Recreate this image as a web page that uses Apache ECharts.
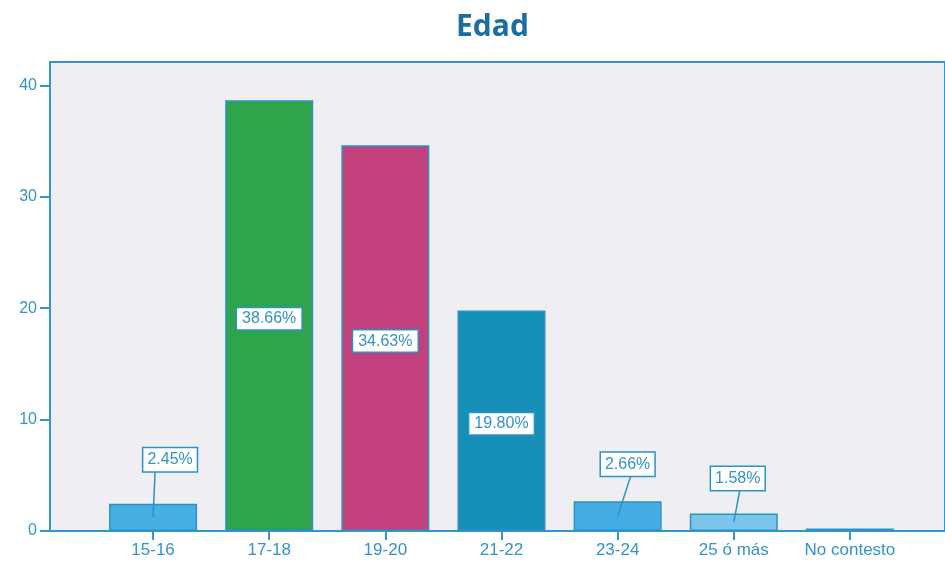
<!DOCTYPE html>
<html>
<head>
<meta charset="utf-8">
<script src="https://cdn.jsdelivr.net/npm/echarts@6/dist/echarts.min.js"></script>
<style>html,body{margin:0;padding:0;background:#fff;}#c{width:945px;height:562px;}</style>
</head>
<body>
<div id="c"></div>
<script>
const categories = ['15-16', '17-18', '19-20', '21-22', '23-24', '25 ó más', 'No contesto'];
const values = [2.45, 38.66, 34.63, 19.80, 2.66, 1.58, 0.22];
const labelTexts = ['2.45%', '38.66%', '34.63%', '19.80%', '2.66%', '1.58%', ''];
const yTicks = [0, 10, 20, 30, 40];
const barColors = ['#47b0e3', '#2ea44b', '#c2417d', '#1690b9', '#45ade2', '#7cc6ec', '#2d9ad6'];
// callout layout (styling): label-centre offset from bar top/centre, and line end x offset
const calloutStyle = { 0: { dx: 17, dy: 44, lx: 2 }, 4: { dx: 10, dy: 37, lx: 13 }, 5: { dx: 4, dy: 35, lx: 6 } };

const BLUE = '#3596cc';
const TXT = '#3493cb';
const FONT = '"Liberation Sans", Arial, sans-serif';

const insideIdx = values.map((v, i) => i).filter(i => labelTexts[i] && values[i] >= 10);
const calloutData = values.map((v, i) => [i, v]).filter(d => labelTexts[d[0]] && d[1] < 10);

const chart = echarts.init(document.getElementById('c'));
chart.setOption({
  animation: false,
  title: {
    text: 'Edad', left: 451, top: 7,
    textStyle: { color: '#1a6fa0', fontSize: 30, fontWeight: 'bold', fontFamily: '"Open Sans", "Noto Sans", sans-serif' }
  },
  grid: [
    { left: 50, right: -10, top: 62, bottom: 31, show: true, backgroundColor: '#efeff3', borderColor: BLUE, borderWidth: 2 },
    { left: 95, right: 37, top: 62, bottom: 31 }
  ],
  xAxis: [
    { gridIndex: 0, type: 'value', show: false },
    {
      gridIndex: 1, type: 'category', data: categories,
      axisLine: { show: false },
      axisTick: { show: true, alignWithLabel: true, interval: 0, length: 9, lineStyle: { color: BLUE, width: 2 } },
      axisLabel: { color: TXT, fontSize: 17, fontFamily: FONT, margin: 11, interval: 0, hideOverlap: false }
    }
  ],
  yAxis: [
    { gridIndex: 0, type: 'value', show: false },
    {
      gridIndex: 1, type: 'value', min: 0, max: 42.1, interval: 10, offset: 45,
      axisLine: { show: false },
      splitLine: { show: false },
      axisTick: { show: true, length: 10, customValues: yTicks, lineStyle: { color: BLUE, width: 2 } },
      axisLabel: { color: TXT, fontSize: 16, fontFamily: FONT, margin: 13, customValues: yTicks }
    }
  ],
  series: [
    {
      type: 'bar', xAxisIndex: 1, yAxisIndex: 1, barWidth: 88,
      data: values.map((v, i) => ({
        value: v,
        itemStyle: { color: barColors[i], borderColor: '#2a92c9', borderWidth: 1.5 },
        label: {
          show: insideIdx.indexOf(i) >= 0,
          position: 'inside',
          offset: [0, 3],
          formatter: () => labelTexts[i],
          color: TXT, fontSize: 16, fontFamily: FONT,
          backgroundColor: '#ffffff', borderColor: '#2a92c9', borderWidth: 1.5,
          padding: [3, 5, 2, 5]
        }
      }))
    },
    {
      type: 'custom', xAxisIndex: 1, yAxisIndex: 1, z: 5,
      data: calloutData,
      renderItem: function (params, api) {
        const i = api.value(0), v = api.value(1);
        const st = calloutStyle[i] || { dx: 10, dy: 38, lx: 5 };
        const top = api.coord([i, v]);
        const mid = api.coord([i, v / 2]);
        const cx = top[0] + st.dx, cy = top[1] - st.dy;
        const boxBottom = cy + 12;
        return {
          type: 'group',
          children: [
            { type: 'line', shape: { x1: mid[0], y1: mid[1], x2: top[0] + st.lx, y2: boxBottom },
              style: { stroke: '#2a92c9', lineWidth: 1.5 } },
            { type: 'text', x: cx, y: cy,
              style: { text: labelTexts[i], fill: TXT, font: '16px ' + FONT, align: 'center', verticalAlign: 'middle',
                backgroundColor: '#ffffff', borderColor: '#2a92c9', borderWidth: 1.5, padding: [4, 4, 3, 4] } }
          ]
        };
      }
    }
  ]
});
</script>
</body>
</html>
